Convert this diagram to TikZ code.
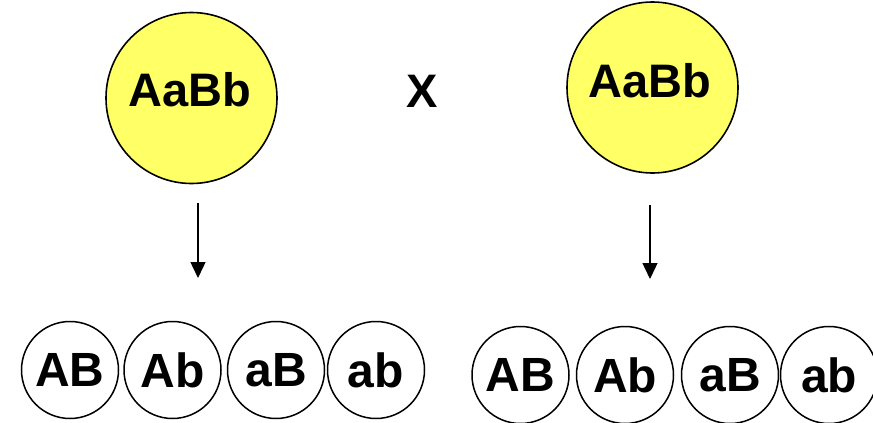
\documentclass[tikz,border=0pt]{standalone}
\usepackage{fontspec}
\setmainfont{Liberation Sans}
\usetikzlibrary{arrows.meta}
\definecolor{yellowfill}{RGB}{255,255,102}
\begin{document}
\begin{tikzpicture}[x=1pt,y=-1pt,
  parent/.style={circle,draw,line width=1.6pt,fill=yellowfill,minimum size=171pt,inner sep=0pt},
  gamete/.style={circle,draw,line width=1.5pt,minimum size=97pt,inner sep=0pt,font=\fontsize{48}{52}\selectfont\bfseries},
  ptext/.style={inner sep=0pt,font=\fontsize{47}{52}\selectfont\bfseries},
  arr/.style={line width=1.4pt,-{Triangle[width=15pt,length=16pt]}}]
\useasboundingbox (0,0) rectangle (873,423);
% parents
\node[parent] (p1) at (191.5,98) {};
\node[ptext] (p1t) at (190,90) {AaBb};
\node[parent] (p2) at (652.5,87.5) {};
\node[ptext] (p2t) at (650,80.5) {AaBb};
\node[ptext] (cross) at (422,91.5) {X};
% arrows
\coordinate (a1s) at (198,203);
\coordinate (a1e) at (198,278);
\coordinate (a2s) at (650,205);
\coordinate (a2e) at (650,279);
\draw[arr] (a1s) -- (a1e);
\draw[arr] (a2s) -- (a2e);
% gametes left
\node[gamete] (l1) at (70,370) {AB};
\node[gamete] (l2) at (172.5,370) {Ab};
\node[gamete] (l3) at (276,370) {aB};
\node[gamete] (l4) at (376,370) {ab};
% gametes right
\node[gamete] (r1) at (520.5,375) {AB};
\node[gamete] (r2) at (625,375) {Ab};
\node[gamete] (r3) at (730,375) {aB};
\node[gamete] (r4) at (829,375) {ab};
\end{tikzpicture}
\end{document}
